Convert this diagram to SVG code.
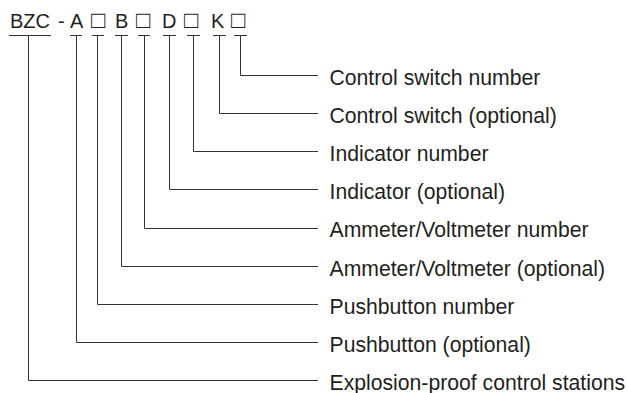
<svg xmlns="http://www.w3.org/2000/svg" width="627" height="393" viewBox="0 0 627 393">
<style>
.t{font-family:"Liberation Sans",Arial,sans-serif;fill:#231f20}
.code{font-size:20px}
.bx{font-size:24px}
.lbl{font-size:21.2px}
.ln{stroke:#333;stroke-width:1;fill:none}
</style>
<rect width="627" height="393" fill="#fff"/>
<g id="code">
<text class="t code" y="28.3"><tspan x="10">BZC</tspan><tspan x="58">-</tspan><tspan x="70">A</tspan><tspan class="bx" x="91">□</tspan><tspan x="115">B</tspan><tspan class="bx" x="136">□</tspan><tspan x="162">D</tspan><tspan class="bx" x="184">□</tspan><tspan x="211">K</tspan><tspan class="bx" x="231">□</tspan></text>
</g>
<g id="connectors" class="ln">
<path d="M9,35.5H51 M28.5,35.5V380.5H318"/>
<path d="M70,35.5H82 M76.5,35.5V342.5H318"/>
<path d="M92,35.5H104 M97.5,35.5V304.5H318"/>
<path d="M115,35.5H128 M121.5,35.5V266.5H318"/>
<path d="M138,35.5H150 M144.5,35.5V228.5H318"/>
<path d="M163,35.5H176 M169.5,35.5V189.5H318"/>
<path d="M187,35.5H200 M193.5,35.5V151.5H318"/>
<path d="M213,35.5H226 M219.5,35.5V113.5H318"/>
<path d="M234,35.5H247 M240.5,35.5V75.5H318"/>
</g>
<g id="n-ks"><text class="t lbl" x="329.5" y="84.5">Control switch number</text></g>
<g id="n-k"><text class="t lbl" x="329.5" y="122.7">Control switch (optional)</text></g>
<g id="n-ds"><text class="t lbl" x="329.5" y="160.9">Indicator number</text></g>
<g id="n-d"><text class="t lbl" x="329.5" y="199.1">Indicator (optional)</text></g>
<g id="n-bs"><text class="t lbl" x="329.5" y="237.4">Ammeter/Voltmeter number</text></g>
<g id="n-b"><text class="t lbl" x="329.5" y="275.6">Ammeter/Voltmeter (optional)</text></g>
<g id="n-as"><text class="t lbl" x="329.5" y="313.8">Pushbutton number</text></g>
<g id="n-a"><text class="t lbl" x="329.5" y="352">Pushbutton (optional)</text></g>
<g id="n-bzc"><text class="t lbl" x="329.5" y="390.2">Explosion-proof control stations</text></g>
</svg>
